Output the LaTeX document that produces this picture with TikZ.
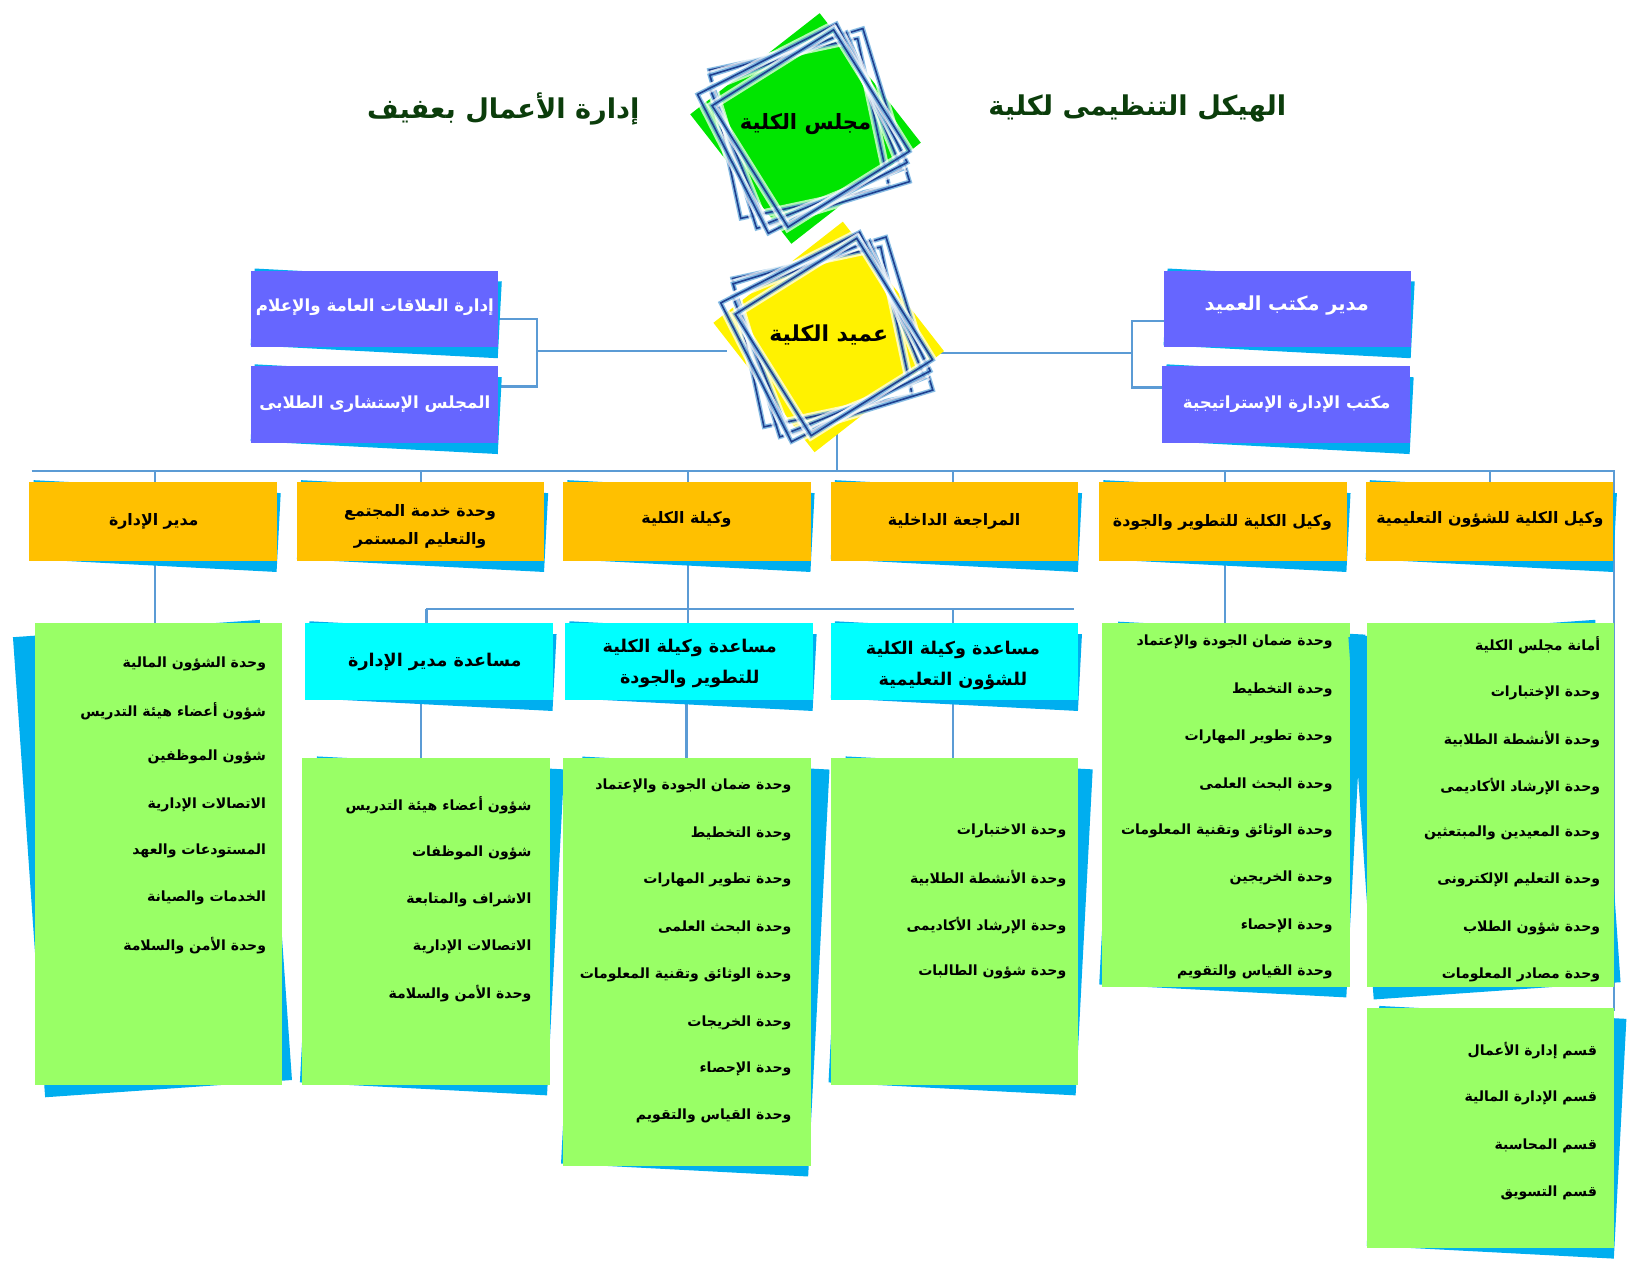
\documentclass[tikz,border=0pt]{standalone}
\usepackage{fontspec}
\TeXXeTstate=1
\newfontfamily\ar[Script=Arabic]{DejaVu Sans}
\definecolor{orng}{HTML}{FFC000}
\definecolor{purp}{HTML}{6666FF}
\definecolor{cyn}{HTML}{00FFFF}
\definecolor{grn}{HTML}{99FF66}
\definecolor{shb}{HTML}{00AEEF}
\definecolor{lnc}{HTML}{5B9BD5}
\definecolor{ttl}{HTML}{0B3D0B}
\definecolor{dkb}{HTML}{1F3F8F}
\tikzset{
 conn/.style={lnc,line width=1.2pt},
 item/.style={anchor=east,inner sep=0pt,font=\ar\bfseries\fontsize{8}{10}\selectfont},
 head/.style={align=center,font=\ar\bfseries\fontsize{9}{16}\selectfont},
}
\newcommand\card[7]{%
 \pgfmathsetmacro\cx{(#1+#3)/2}\pgfmathsetmacro\cy{(#2+#4)/2}%
 \pgfmathsetmacro\hw{(#3-#1)/2}\pgfmathsetmacro\hh{(#4-#2)/2}%
 \begin{scope}[shift={(\cx,\cy)}]
  \fill[shb,rotate=#6] ({-\hw+#7},{-\hh+4}) rectangle ({\hw+#7},{\hh+4});
 \end{scope}
 \fill[#5] (#1,#2) rectangle (#3,#4);}
\newcommand\diam[4]{% cx cy fill rot
 \begin{scope}[shift={(#1,#2)}]
  \fill[#3,rotate=#4] (-78,-78) rectangle (78,78);
  \foreach \a/\s/\dx in {12/72/-6,17/76/4,22/70/0,27/74/-3,32/68/5}{
   \begin{scope}[shift={(\dx,0)},rotate=\a]
   \draw[white,opacity=.7,line width=5pt] (-\s,-\s) rectangle (\s,\s);
   \draw[cyan!60!blue,opacity=.5,line width=2.5pt] (-\s,-\s) rectangle (\s,\s);
   \draw[dkb,line width=0.9pt] (-\s,-\s) rectangle (\s,\s);
   \end{scope}}
 \end{scope}}
\begin{document}
\begin{tikzpicture}[x=0.02106cm,y=-0.02106cm]
\useasboundingbox (0,0) rectangle (1567,1211);
% titles
\node[font=\ar\bfseries\fontsize{15.5}{18}\selectfont,ttl] (t1) at (478,103) {\beginR إدارة الأعمال بعفيف\endR};
\node[font=\ar\bfseries\fontsize{15.5}{18}\selectfont,ttl] (t2) at (1080,103) {\beginR الهيكل التنظيمى لكلية\endR};
% connectors
\draw[conn] (473,303) -- (510,303) -- (510,367) -- (473,367);
\draw[conn] (510,333) -- (690,333);
\draw[conn] (1105,305) -- (1075,305) -- (1075,368) -- (1104,368);
\draw[conn] (1075,335) -- (890,335);
\draw[conn] (795,400) -- (795,447);
\draw[conn] (30,447) -- (1533,447) -- (1533,960);
\foreach \x in {147,400,653,905,1163,1415} \draw[conn] (\x,447) -- (\x,460);
\draw[conn] (147,533) -- (147,592);
\draw[conn] (1163,533) -- (1163,592);
\draw[conn] (653,533) -- (653,578);
\draw[conn] (405,578) -- (1020,578);
\foreach \x in {405,653,905} \draw[conn] (\x,578) -- (\x,592);
\foreach \x in {400,652,905} \draw[conn] (\x,665) -- (\x,720);
% diamonds
\diam{765}{122}{green!90!black}{38}
\diam{787}{320}{yellow}{38}
\node[font=\ar\bfseries\fontsize{12}{14}\selectfont] (council) at (765,118) {\beginR مجلس الكلية\endR};
\node[font=\ar\bfseries\fontsize{12.5}{14}\selectfont] (dean) at (787,318) {\beginR عميد الكلية\endR};
% purple
\card{238}{257}{473}{330}{purp}{-3}{2}
\card{238}{348}{473}{421}{purp}{-3}{2}
\card{1105}{257}{1340}{330}{purp}{-3}{2}
\card{1104}{348}{1339}{421}{purp}{-3}{2}
\node[head,white,font=\ar\bfseries\fontsize{9.5}{14}\selectfont] (p1) at (356,292) {\beginR إدارة العلاقات العامة والإعلام\endR};
\node[head,white,font=\ar\bfseries\fontsize{9.5}{14}\selectfont] (p2) at (356,384) {\beginR المجلس الإستشارى الطلابى\endR};
\node[head,white,font=\ar\bfseries\fontsize{11}{14}\selectfont] (p3) at (1222,290) {\beginR مدير مكتب العميد\endR};
\node[head,white,font=\ar\bfseries\fontsize{9.5}{14}\selectfont] (p4) at (1222,384) {\beginR مكتب الإدارة الإستراتيجية\endR};
% orange
\foreach \x in {28,282,535,789,1044,1297} \card{\x}{458}{\x+235}{533}{orng}{-3}{2};
\node[head] (o1) at (146,495) {\beginR مدير الإدارة\endR};
\node[head] (o2) at (399,500) {\beginR وحدة خدمة المجتمع\endR\\\beginR والتعليم المستمر\endR};
\node[head] (o3) at (652,493) {\beginR وكيلة الكلية\endR};
\node[head] (o4) at (906,495) {\beginR المراجعة الداخلية\endR};
\node[head] (o5) at (1161,496) {\beginR وكيل الكلية للتطوير والجودة\endR};
\node[head] (o6) at (1415,493) {\beginR وكيل الكلية للشؤون التعليمية\endR};
% cyan
\foreach \x in {290,537,789} \card{\x}{592}{\x+235}{665}{cyn}{-3}{2};
\node[head,font=\ar\bfseries\fontsize{10}{16}\selectfont] (c1) at (413,629) {\beginR مساعدة مدير الإدارة\endR};
\node[head,font=\ar\bfseries\fontsize{10}{18}\selectfont] (c2) at (655,630) {\beginR مساعدة وكيلة الكلية\endR\\\beginR للتطوير والجودة\endR};
\node[head,font=\ar\bfseries\fontsize{10}{18}\selectfont] (c3) at (905,632) {\beginR مساعدة وكيلة الكلية\endR\\\beginR للشؤون التعليمية\endR};
% green
\card{33}{592}{268}{1030}{grn}{4}{-6}
\card{287}{720}{522}{1030}{grn}{-3}{6}
\card{535}{720}{770}{1107}{grn}{-3}{8}
\card{789}{720}{1024}{1030}{grn}{-3}{6}
\card{1047}{592}{1282}{937}{grn}{-3}{6}
\card{1298}{592}{1533}{937}{grn}{4}{-6}
\card{1298}{957}{1533}{1185}{grn}{-3}{6}
\foreach \y/\t [count=\i] in {630/وحدة الشؤون المالية,675/شؤون أعضاء هيئة التدريس,719/شؤون الموظفين,764/الاتصالات الإدارية,808/المستودعات والعهد,853/الخدمات والصيانة,898/وحدة الأمن والسلامة}
 \node[item] (g1-\i) at (253,\y) {\beginR \t\endR};
\foreach \y/\t [count=\i] in {765/شؤون أعضاء هيئة التدريس,810/شؤون الموظفات,855/الاشراف والمتابعة,899/الاتصالات الإدارية,944/وحدة الأمن والسلامة}
 \node[item] (g2-\i) at (505,\y) {\beginR \t\endR};
\foreach \y/\t [count=\i] in {746/وحدة ضمان الجودة والإعتماد,792/وحدة التخطيط,836/وحدة تطوير المهارات,881/وحدة البحث العلمى,926/وحدة الوثائق وتقنية المعلومات,971/وحدة الخريجات,1015/وحدة الإحصاء,1060/وحدة القياس والتقويم}
 \node[item] (g3-\i) at (752,\y) {\beginR \t\endR};
\foreach \y/\t [count=\i] in {789/وحدة الاختبارات,834/وحدة الأنشطة الطلابية,879/وحدة الإرشاد الأكاديمى,923/وحدة شؤون الطالبات}
 \node[item] (g4-\i) at (1013,\y) {\beginR \t\endR};
\foreach \y/\t [count=\i] in {610/وحدة ضمان الجودة والإعتماد,655/وحدة التخطيط,700/وحدة تطوير المهارات,745/وحدة البحث العلمى,789/وحدة الوثائق وتقنية المعلومات,834/وحدة الخريجين,879/وحدة الإحصاء,923/وحدة القياس والتقويم}
 \node[item] (g5-\i) at (1266,\y) {\beginR \t\endR};
\foreach \y/\t [count=\i] in {613/أمانة مجلس الكلية,658/وحدة الإختبارات,702/وحدة الأنشطة الطلابية,747/وحدة الإرشاد الأكاديمى,791/وحدة المعيدين والمبتعثين,836/وحدة التعليم الإلكترونى,881/وحدة شؤون الطلاب,926/وحدة مصادر المعلومات}
 \node[item] (g6-\i) at (1520,\y) {\beginR \t\endR};
\foreach \y/\t [count=\i] in {998/قسم إدارة الأعمال,1043/قسم الإدارة المالية,1088/قسم المحاسبة,1133/قسم التسويق}
 \node[item] (g7-\i) at (1517,\y) {\beginR \t\endR};
\end{tikzpicture}
\end{document}
